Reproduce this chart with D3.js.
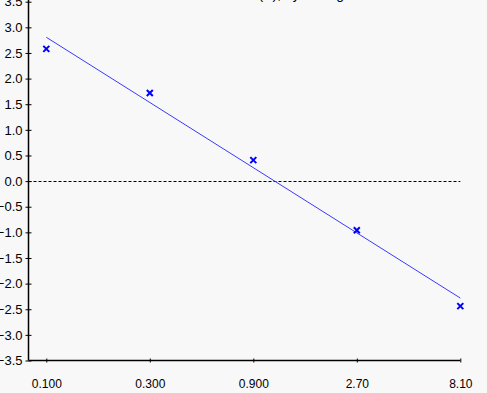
<!DOCTYPE html>
<html>
<head>
<meta charset="utf-8">
<script src="https://cdn.jsdelivr.net/npm/d3@7"></script>
<style>
  body { margin: 0; background: #f8f8f8; }
  svg { display: block; font-family: "Liberation Sans", Arial, sans-serif; }
</style>
</head>
<body>
<div id="chart"></div>
<script type="text/javascript">

var doses = [0.1, 0.3, 0.9, 2.7, 8.1];
var doseLabels = ["0.100", "0.300", "0.900", "2.70", "8.10"];
var logits = [2.58, 1.72, 0.41, -0.96, -2.44];
var yTicks = [3.5, 3.0, 2.5, 2.0, 1.5, 1.0, 0.5, 0.0, -0.5, -1.0, -1.5, -2.0, -2.5, -3.0, -3.5];
var title = "Probit(P), by Dosage";

var width = 487,
    height = 393,
    axisX = 28.5;

var svg = d3.select("#chart")
    .append("svg")
    .attr("width", width)
    .attr("height", height);

svg.append("rect")
    .attr("width", width)
    .attr("height", height)
    .attr("fill", "#f8f8f8");

var x = d3.scaleLog()
    .base(3)
    .domain([0.1, 8.1])
    .range([46.3, 460.3]);

var y = d3.scaleLinear()
    .domain([-3.5, 3.5])
    .range([360.5, 1.7]);

// title, mostly cut off by the top edge
svg.append("text")
    .attr("x", 222)
    .attr("y", -1.5)
    .attr("font-size", 14)
    .attr("fill", "#000")
    .text(title);

// zero reference line
svg.append("line")
    .attr("x1", axisX)
    .attr("x2", x(8.1))
    .attr("y1", Math.round(y(0)) + 0.5)
    .attr("y2", Math.round(y(0)) + 0.5)
    .attr("stroke", "#000")
    .attr("stroke-dasharray", "3,2");

// least squares line on log dose
var lx = doses.map(function (d) { return Math.log(d) / Math.log(3); });
var mx = d3.mean(lx), my = d3.mean(logits);
var sxy = d3.sum(lx, function (d, i) { return (d - mx) * (logits[i] - my); });
var sxx = d3.sum(lx, function (d) { return (d - mx) * (d - mx); });
var slope = sxy / sxx, icpt = my - slope * mx;
var fit = function (d) { return icpt + slope * Math.log(d) / Math.log(3); };

svg.append("line")
    .attr("x1", x(doses[0]))
    .attr("y1", y(fit(doses[0])))
    .attr("x2", x(doses[doses.length - 1]))
    .attr("y2", y(fit(doses[doses.length - 1])))
    .attr("stroke", "#3a3aff")
    .attr("stroke-width", 1);

// y axis
var yAxis = d3.axisLeft(y)
    .tickValues(yTicks)
    .tickFormat(d3.format(".1f"))
    .tickSize(3)
    .tickPadding(3);

var gy = svg.append("g")
    .attr("transform", "translate(" + axisX + ",0)")
    .call(yAxis);
gy.select(".domain").remove();
gy.selectAll(".tick line").attr("x1", 3).attr("stroke", "#000");
gy.selectAll(".tick text").attr("font-size", 13).attr("fill", "#000").attr("font-family", null);

// x axis
var xAxis = d3.axisBottom(x)
    .tickValues(doses)
    .tickFormat(function (d, i) { return doseLabels[i]; })
    .tickSize(2)
    .tickPadding(17);

var gx = svg.append("g")
    .attr("transform", "translate(0," + y(-3.5) + ")")
    .call(xAxis);
gx.select(".domain").remove();
gx.selectAll(".tick line").attr("y1", -2).attr("stroke", "#000");
gx.selectAll(".tick text").attr("font-size", 12).attr("fill", "#000").attr("font-family", null);

// axis lines
svg.append("line")
    .attr("x1", axisX).attr("x2", axisX)
    .attr("y1", 0).attr("y2", y(-3.5))
    .attr("stroke", "#000").attr("stroke-width", 1.5);

svg.append("line")
    .attr("x1", axisX).attr("x2", x(8.1))
    .attr("y1", y(-3.5)).attr("y2", y(-3.5))
    .attr("stroke", "#000").attr("stroke-width", 1.5);

// markers
var pts = svg.selectAll("g.pt")
    .data(doses)
    .enter()
    .append("g")
    .attr("class", "pt")
    .attr("transform", function (d, i) {
        return "translate(" + x(d) + "," + y(logits[i]) + ")";
    });

pts.append("path")
    .attr("d", "M-3,-3L3,3M-3,3L3,-3")
    .attr("stroke", "#0000ff")
    .attr("stroke-width", 2)
    .attr("fill", "none");

</script>
</body>
</html>
